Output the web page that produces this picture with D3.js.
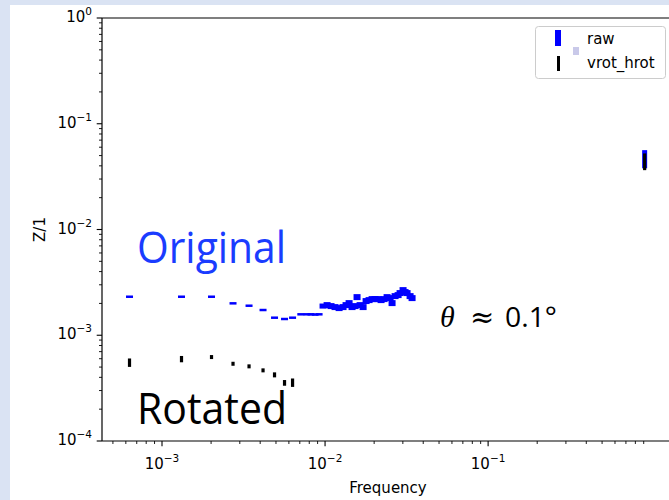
<!DOCTYPE html>
<html><head><meta charset="utf-8">
<script src="https://cdn.jsdelivr.net/npm/d3@7"></script>
<style>html,body{margin:0;padding:0;background:#dae3f3;}svg{display:block;}</style>
</head><body>
<svg id="c" width="669" height="500"></svg>
<script>
// ---- data ----
const rawFreq = [6.32e-4,1.317e-3,2.012e-3,2.726e-3,3.418e-3,4.165e-3,4.899e-3,5.642e-3,6.32e-3,7.10e-3,7.76e-3,8.20e-3,8.68e-3,9.19e-3,
  9.72e-3,1.029e-2,1.088e-2,1.151e-2,1.219e-2,1.289e-2,1.345e-2,1.404e-2,1.464e-2,1.528e-2,1.571e-2,1.640e-2,1.711e-2,1.785e-2,1.862e-2,
  1.943e-2,2.026e-2,2.114e-2,2.206e-2,2.301e-2,2.401e-2,2.505e-2,2.576e-2,2.688e-2,2.805e-2,2.884e-2,3.009e-2,3.095e-2,3.184e-2,3.322e-2,3.417e-2,
  0.912];
const rawZ = [2.314e-3,2.314e-3,2.314e-3,2.004e-3,1.903e-3,1.733e-3,1.466e-3,1.425e-3,1.466e-3,1.578e-3,1.578e-3,1.578e-3,1.57e-3,1.578e-3,
  1.891e-3,1.932e-3,1.891e-3,1.850e-3,1.810e-3,1.850e-3,1.932e-3,2.018e-3,1.850e-3,1.891e-3,2.299e-3,1.932e-3,1.850e-3,2.109e-3,2.154e-3,
  2.202e-3,2.202e-3,2.202e-3,2.154e-3,2.202e-3,2.299e-3,2.250e-3,2.018e-3,2.350e-3,2.402e-3,2.510e-3,2.678e-3,2.565e-3,2.510e-3,2.350e-3,2.250e-3,
  0.0471];
const rawErr = [0.027,0.027,0.027,0.027,0.027,0.027,0.027,0.027,0.027,0.027,0.027,0.027,0.027,0.027,
  0.055,0.065,0.065,0.065,0.065,0.065,0.065,0.065,0.065,0.065,0.065,0.065,0.065,0.065,0.065,
  0.065,0.065,0.065,0.065,0.065,0.065,0.065,0.065,0.065,0.065,0.065,0.065,0.065,0.065,0.065,0.065,
  0.195];
const rotFreq = [6.32e-4,1.317e-3,2.012e-3,2.726e-3,3.418e-3,4.165e-3,4.899e-3,5.642e-3,6.32e-3,0.912];
const rotZ = [5.525e-4,5.96e-4,6.225e-4,5.38e-4,5.085e-4,4.66e-4,4.227e-4,3.551e-4,3.574e-4,0.0444];
const rotErr = [0.0914,0.0686,0.0435,0.0435,0.0435,0.0435,0.0544,0.062,0.0914,0.18];
const xTicks = [1e-3,1e-2,1e-1];
const xTickExp = ["−3","−2","−1"];
const yTicks = [1e-4,1e-3,1e-2,1e-1,1];
const yTickExp = ["−4","−3","−2","−1","0"];
const seriesNames = ["raw","vrot_hrot"];
const xLabel = "Frequency", yLabel = "Z/1";

// ---- layout ----
const svg = d3.select("#c");
const L = 102, T = 18, B = 441, R = 674;
const FONT = "DejaVu Sans, sans-serif";
svg.append("rect").attr("x",10).attr("y",5).attr("width",669).attr("height",500).attr("fill","#fff");

const x = d3.scaleLog().domain([Math.pow(10,-3.368), Math.pow(10,0.14)]).range([L,R]);
const y = d3.scaleLog().domain([1e-4,1]).range([B,T]);

// minor ticks
const g = svg.append("g");
const xMinor = [], yMinor = [];
for (let e=-4;e<=0;e++) for (let k=2;k<=9;k++){ const v=k*Math.pow(10,e); if(v>x.domain()[0]&&v<x.domain()[1]) xMinor.push(v); }
for (let e=-4;e<0;e++) for (let k=2;k<=9;k++) yMinor.push(k*Math.pow(10,e));
g.selectAll(".xm").data(xMinor).join("line").attr("x1",d=>x(d)).attr("x2",d=>x(d)).attr("y1",B).attr("y2",B+3).attr("stroke","#000").attr("stroke-width",0.9);
g.selectAll(".xM").data(xTicks).join("line").attr("x1",d=>x(d)).attr("x2",d=>x(d)).attr("y1",B).attr("y2",B+5.3).attr("stroke","#000").attr("stroke-width",1.1);
g.selectAll(".ym").data(yMinor).join("line").attr("y1",d=>y(d)).attr("y2",d=>y(d)).attr("x1",L).attr("x2",L-3).attr("stroke","#000").attr("stroke-width",0.9);
g.selectAll(".yM").data(yTicks).join("line").attr("y1",d=>y(d)).attr("y2",d=>y(d)).attr("x1",L).attr("x2",L-5.3).attr("stroke","#000").attr("stroke-width",1.1);

// tick labels
xTicks.forEach((v,i)=>{
  const t = svg.append("text").attr("x",x(v)).attr("y",469).attr("text-anchor","middle").attr("font-family",FONT).attr("font-size",15);
  t.append("tspan").text("10");
  t.append("tspan").attr("dy",-7).attr("font-size",10.5).text(xTickExp[i]);
});
yTicks.forEach((v,i)=>{
  const t = svg.append("text").attr("x",92).attr("y",y(v)+4).attr("text-anchor","end").attr("font-family",FONT).attr("font-size",15);
  t.append("tspan").text("10");
  t.append("tspan").attr("dy",-7).attr("font-size",10.5).text(yTickExp[i]);
});
svg.append("text").attr("x",(L+R)/2).attr("y",493).attr("text-anchor","middle").attr("font-family",FONT).attr("font-size",15).text(xLabel);
svg.append("text").attr("transform",`translate(45,${(T+B)/2}) rotate(-90)`).attr("text-anchor","middle").attr("font-family",FONT).attr("font-size",15).text(yLabel);

// data marks
const rawData = rawFreq.map((f,i)=>({f, z:rawZ[i], e:rawErr[i]}));
const rotData = rotFreq.map((f,i)=>({f, z:rotZ[i], e:rotErr[i]}));
const wRaw = d => d.f > 0.5 ? 5 : 7;
svg.append("g").selectAll("rect").data(rawData).join("rect")
  .attr("x",d=>x(d.f)-wRaw(d)/2).attr("width",wRaw)
  .attr("y",d=>y(d.z*(1+d.e))).attr("height",d=>Math.max(2,y(d.z*(1-d.e))-y(d.z*(1+d.e))))
  .attr("fill","#0000ff");
svg.append("g").selectAll("rect").data(rotData).join("rect")
  .attr("x",d=>x(d.f)-1.6).attr("width",3.2)
  .attr("y",d=>y(d.z*(1+d.e))).attr("height",d=>Math.max(3,y(d.z*(1-d.e))-y(d.z*(1+d.e))))
  .attr("fill","#000");

// axes spines
svg.append("line").attr("x1",L).attr("x2",L).attr("y1",T).attr("y2",B).attr("stroke","#000").attr("stroke-width",1.2);
svg.append("line").attr("x1",L).attr("x2",R).attr("y1",B).attr("y2",B).attr("stroke","#000").attr("stroke-width",1.2);
svg.append("line").attr("x1",L).attr("x2",R).attr("y1",T).attr("y2",T).attr("stroke","#000").attr("stroke-width",1.2);

// legend
const lg = svg.append("g");
lg.append("rect").attr("x",535.5).attr("y",26.5).attr("width",130).attr("height",52).attr("rx",3).attr("fill","#fff").attr("fill-opacity",0.8).attr("stroke","#cccccc");
lg.append("rect").attr("x",555).attr("y",30).attr("width",6).attr("height",16).attr("fill","#0000ff");
lg.append("rect").attr("x",573).attr("y",47).attr("width",6).attr("height",8).attr("fill","#c9c9e9");
lg.append("rect").attr("x",557).attr("y",56).attr("width",3).attr("height",15).attr("fill","#000");
lg.append("text").attr("x",587).attr("y",44).attr("font-family",FONT).attr("font-size",15).text(seriesNames[0]);
lg.append("text").attr("x",587).attr("y",68).attr("font-family",FONT).attr("font-size",15).text(seriesNames[1]);

// annotations
svg.append("text").attr("x",137).attr("y",263).attr("font-family","Open Sans, sans-serif").attr("font-size",43)
  .attr("fill","#1a3cff").attr("textLength",149).attr("lengthAdjust","spacingAndGlyphs").text("Original");
svg.append("text").attr("x",137).attr("y",424).attr("font-family","Open Sans, sans-serif").attr("font-size",43)
  .attr("fill","#000").attr("textLength",150).attr("lengthAdjust","spacingAndGlyphs").text("Rotated");
svg.append("text").attr("x",440).attr("y",327).attr("font-size",30).attr("font-family","Liberation Serif, serif").attr("font-style","italic").text("θ");
svg.append("text").attr("x",470).attr("y",327).attr("font-size",29).attr("font-family","DejaVu Serif, serif").text("≈");
svg.append("text").attr("x",505).attr("y",327).attr("font-size",28).attr("font-family","Open Sans, sans-serif")
  .attr("textLength",52).attr("lengthAdjust","spacingAndGlyphs").text("0.1°");
</script>
</body></html>
